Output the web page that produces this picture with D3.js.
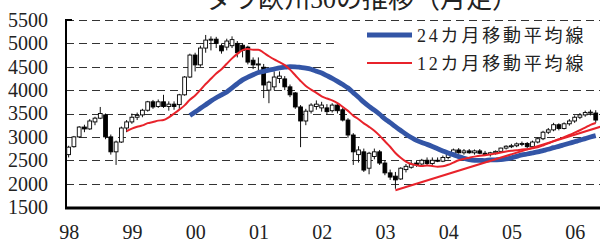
<!DOCTYPE html>
<html><head><meta charset="utf-8">
<script src="https://cdn.jsdelivr.net/npm/d3@7"></script>
<style>
body{margin:0;background:#fff;}
svg{display:block;}
</style></head>
<body>
<svg id="c" width="600" height="242"></svg>
<script>
// ---- data (monthly, Jan 1998 - May 2006) ----
const startYear = 1998;
const open = [
 2620,2790,3000,3210,3170,3320,3400,3470,3000,2680,2890,3190,
 3320,3420,3470,3570,3750,3650,3750,3650,3700,3690,3900,4280,
 4750,4540,4900,5070,5090,4950,4920,4950,5000,4960,4920,4640,
 4540,4490,4000,4070,4250,4240,4070,3940,3640,3340,3550,3650,
 3620,3620,3560,3680,3580,3360,3040,2620,2680,2330,2580,2680,
 2440,2230,2160,2100,2300,2350,2440,2420,2500,2430,2500,2480,
 2560,2620,2720,2660,2700,2660,2700,2650,2620,2660,2690,2760,
 2800,2810,2850,2860,2790,2890,2960,3100,3150,3260,3180,3280,
 3340,3420,3470,3520,3510];
const high = [
 2810,3020,3230,3260,3380,3430,3640,3500,3050,2920,3220,3360,
 3500,3520,3600,3770,3790,3800,3900,3760,3760,3920,4300,4780,
 4800,4950,5180,5150,5140,5000,5100,5150,5050,5000,4950,4700,
 4700,4560,4200,4400,4400,4300,4120,3960,3680,3600,3720,3780,
 3750,3700,3720,3700,3620,3400,3080,2800,2750,2680,2750,2720,
 2500,2300,2250,2350,2420,2480,2500,2530,2560,2560,2560,2600,
 2660,2750,2760,2740,2740,2730,2740,2700,2680,2710,2770,2820,
 2850,2880,2900,2890,2920,2990,3130,3190,3300,3290,3310,3380,
 3460,3510,3560,3580,3570];
const low = [
 2560,2770,2980,3100,3150,3250,3380,2950,2620,2400,2870,3100,
 3280,3360,3420,3540,3600,3620,3620,3560,3580,3600,3880,4260,
 4400,4500,4800,4850,4900,4780,4850,4900,4700,4700,4550,4450,
 4400,3830,3720,4000,4150,4000,3850,3600,2780,3250,3500,3580,
 3540,3480,3520,3500,3330,2980,2400,2450,2250,2200,2520,2400,
 2180,2080,1890,2080,2240,2320,2360,2400,2380,2400,2460,2460,
 2520,2600,2640,2620,2640,2620,2630,2600,2580,2620,2660,2730,
 2760,2780,2800,2760,2760,2860,2930,3060,3120,3140,3160,3240,
 3300,3380,3430,3460,3300];
const close = [
 2780,3000,3210,3170,3340,3400,3500,3000,2680,2890,3190,3320,
 3420,3460,3570,3750,3640,3750,3650,3700,3650,3900,4280,4750,
 4540,4900,5070,5090,5000,4840,5050,5080,4800,4850,4600,4540,
 4560,4110,4170,4280,4300,4070,3900,3640,3340,3550,3680,3700,
 3680,3540,3680,3560,3360,3040,2680,2720,2290,2650,2680,2440,
 2230,2140,2080,2330,2370,2420,2400,2500,2430,2500,2480,2560,
 2620,2720,2660,2700,2660,2700,2650,2620,2660,2690,2760,2800,
 2810,2850,2860,2790,2890,2960,3100,3150,3260,3180,3280,3340,
 3420,3470,3520,3530,3360];
const yearLabels = ["98","99","00","01","02","03","04","05","06"];
const yTicks = [1500,2000,2500,3000,3500,4000,4500,5000,5500];
const trendIdx = [62, 101];      // Mar 2003 -> Jun 2006
const trendVal = [1860, 3220];
const maSpans = [24, 12];
const legendLabels = ["24カ月移動平均線", "12カ月移動平均線"];
const title = "ダウ欧州50の推移（月足）";

// ---- drawing ----
const svg = d3.select("#c");
const L = 66, R = 600, T = 20, B = 207;
const x = d3.scaleLinear().domain([-0.5, 101]).range([L, 601]);
const y = d3.scaleLinear().domain([1500, 5500]).range([B, T]);
const serif = "'Liberation Serif','DejaVu Serif','Noto Sans CJK JP',serif";

svg.append("defs").append("clipPath").attr("id","clip")
  .append("rect").attr("x",L).attr("y",0).attr("width",R-L).attr("height",B);

// gridlines
svg.append("g").selectAll("line").data(yTicks.filter(v=>v>1500)).join("line")
  .attr("x1",L).attr("x2",R)
  .attr("y1",d=>Math.round(y(d))+0.5).attr("y2",d=>Math.round(y(d))+0.5)
  .attr("stroke","#333").attr("stroke-width",1).attr("stroke-dasharray","8,5");

// y axis labels
const yAxis = d3.axisLeft(y).tickValues(yTicks).tickSize(0).tickPadding(18).tickFormat(d3.format("d"));
const gy = svg.append("g").attr("transform",`translate(${L},0)`).call(yAxis);
gy.attr("font-family",null).attr("font-size",null);
gy.select(".domain").remove();
gy.selectAll("text").style("font-family",serif).style("font-size","20px").attr("fill","#222");
svg.append("line").attr("x1",L).attr("x2",L).attr("y1",T-1).attr("y2",B)
  .attr("stroke","#000").attr("stroke-width",2);
svg.append("line").attr("x1",L).attr("x2",L+6).attr("y1",T).attr("y2",T)
  .attr("stroke","#000").attr("stroke-width",2);

// month ticks and x axis
const months = d3.range(close.length + 1);
const xTickAxis = d3.axisBottom(x).tickValues(months).tickSizeInner(-6).tickSizeOuter(0).tickFormat("");
const gx = svg.append("g").attr("transform",`translate(0,${B})`).attr("clip-path","url(#clip)").call(xTickAxis);
gx.select(".domain").remove();
gx.selectAll(".tick line").attr("stroke","#000").attr("stroke-width",1.6);
svg.append("line").attr("x1",L-1).attr("x2",R).attr("y1",B+1).attr("y2",B+1)
  .attr("stroke","#000").attr("stroke-width",3);

const yearIdx = yearLabels.map((d,i)=>i*12);
const xLab = d3.axisBottom(x).tickValues(yearIdx).tickSize(0).tickPadding(0)
  .tickFormat((d,i)=>yearLabels[i]);
const gl = svg.append("g").attr("transform",`translate(0,239)`).call(xLab);
gl.attr("font-family",null).attr("font-size",null);
gl.select(".domain").remove();
gl.selectAll("text").attr("dy",0).style("font-family",serif).style("font-size","20px").attr("fill","#222");

// candles
const plot = svg.append("g").attr("clip-path","url(#clip)");
const idx = d3.range(close.length);
const bw = 3.8;
plot.append("g").selectAll("line").data(idx).join("line")
  .attr("x1",i=>x(i)).attr("x2",i=>x(i))
  .attr("y1",i=>y(high[i])).attr("y2",i=>y(low[i]))
  .attr("stroke","#111").attr("stroke-width",1);
plot.append("g").selectAll("rect").data(idx).join("rect")
  .attr("x",i=>x(i)-bw/2)
  .attr("y",i=>y(Math.max(open[i],close[i])))
  .attr("width",bw)
  .attr("height",i=>Math.max(1,Math.abs(y(open[i])-y(close[i]))))
  .attr("fill",i=>close[i]>=open[i]?"#fff":"#000")
  .attr("stroke","#000").attr("stroke-width",0.9);

// moving averages
function ma(n){
  const out=[];
  for(let i=n-1;i<close.length;i++){
    out.push([i, d3.mean(close.slice(i-n+1,i+1))]);
  }
  return out;
}
const line = d3.line().x(d=>x(d[0])).y(d=>y(d[1])).curve(d3.curveMonotoneX);
const maStyles = [{c:"#3355a6",w:4.8},{c:"#e8232b",w:2}];
maSpans.forEach((n,k)=>{
  plot.append("path").datum(ma(n)).attr("d",line).attr("fill","none")
    .attr("stroke",maStyles[k].c).attr("stroke-width",maStyles[k].w)
    .attr("stroke-linejoin","round");
});
plot.append("path").datum(trendIdx.map((d,i)=>[d,trendVal[i]]))
  .attr("d",d3.line().x(d=>x(d[0])).y(d=>y(d[1])))
  .attr("fill","none").attr("stroke","#e8232b").attr("stroke-width",2);

// legend
svg.append("rect").attr("x",338).attr("y",23).attr("width",262).attr("height",55).attr("fill","#fff");
const lg = svg.append("g");
legendLabels.forEach((t,k)=>{
  const yy = k===0?35:63;
  lg.append("line").attr("x1",367).attr("x2",412).attr("y1",yy).attr("y2",yy)
    .attr("stroke",maStyles[k].c).attr("stroke-width",maStyles[k].w);
  lg.append("text").attr("x",417).attr("y",yy+6.5).text(t)
    .style("font-family",serif).style("font-size","18px").attr("letter-spacing",2.8).attr("fill","#222");
});

// title (clipped at top, as in the reference)
svg.append("text").attr("x",206).attr("y",8).text(title)
  .style("font-family",serif).style("font-size","26px").attr("fill","#222");
</script>
</body></html>
